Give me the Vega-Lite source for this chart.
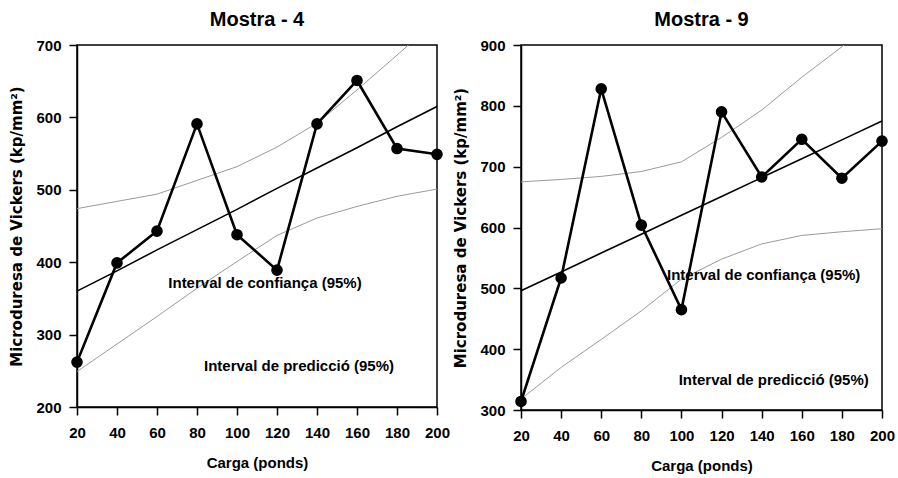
{
  "$schema": "https://vega.github.io/schema/vega-lite/v6.json",
  "background": "white",
  "padding": {"left": 9, "top": 9, "right": 2, "bottom": 5},
  "bounds": "flush",
  "spacing": 84,
  "config": {
    "font": "Liberation Sans",
    "view": {"stroke": "black", "strokeWidth": 1.5},
    "axis": {
      "grid": false,
      "domainColor": "black", "domainWidth": 1.5,
      "tickColor": "black", "tickWidth": 1.5, "tickSize": 8,
      "labelFont": "Liberation Sans", "labelFontWeight": "bold", "labelFontSize": 15, "labelColor": "black",
      "titleFont": "Liberation Sans", "titleFontWeight": "bold", "titleFontSize": 15, "titleColor": "black"
    },
    "axisX": {"labelPadding": 10, "titlePadding": 15, "labelFlush": false, "labelOverlap": false},
    "axisY": {"labelPadding": 8, "titlePadding": 11, "titleFont": "DejaVu Sans", "titleFontSize": 15, "labelFlush": false},
    "title": {"font": "Liberation Sans", "fontSize": 20, "fontWeight": "bold", "color": "black", "offset": 8}
  },
  "datasets": {
    "m4": [
      {"carga": 20, "obs": 262, "fit": 360, "upper": 474, "lower": 249},
      {"carga": 40, "obs": 399, "fit": 388, "upper": 484, "lower": 287},
      {"carga": 60, "obs": 443, "fit": 417, "upper": 494, "lower": 325},
      {"carga": 80, "obs": 591, "fit": 445, "upper": 513, "lower": 364},
      {"carga": 100, "obs": 438, "fit": 473, "upper": 532, "lower": 401},
      {"carga": 120, "obs": 389, "fit": 502, "upper": 559, "lower": 437},
      {"carga": 140, "obs": 591, "fit": 530, "upper": 592, "lower": 461},
      {"carga": 160, "obs": 651, "fit": 558, "upper": 638, "lower": 477},
      {"carga": 180, "obs": 557, "fit": 587, "upper": 686, "lower": 491},
      {"carga": 200, "obs": 549, "fit": 615, "upper": 735, "lower": 501}
    ],
    "m9": [
      {"carga": 20, "obs": 314, "fit": 496, "upper": 675, "lower": 318},
      {"carga": 40, "obs": 517, "fit": 527, "upper": 679, "lower": 370},
      {"carga": 60, "obs": 828, "fit": 558, "upper": 684, "lower": 416},
      {"carga": 80, "obs": 604, "fit": 589, "upper": 692, "lower": 463},
      {"carga": 100, "obs": 465, "fit": 620, "upper": 708, "lower": 515},
      {"carga": 120, "obs": 790, "fit": 651, "upper": 748, "lower": 548},
      {"carga": 140, "obs": 683, "fit": 682, "upper": 793, "lower": 573},
      {"carga": 160, "obs": 745, "fit": 713, "upper": 847, "lower": 587},
      {"carga": 180, "obs": 681, "fit": 744, "upper": 897, "lower": 593},
      {"carga": 200, "obs": 742, "fit": 775, "upper": 960, "lower": 598}
    ],
    "m4lab": [
      {"carga": 114, "v": 371, "label": "Interval de confiança (95%)"},
      {"carga": 131, "v": 256, "label": "Interval de predicció (95%)"}
    ],
    "m9lab": [
      {"carga": 141, "v": 522, "label": "Interval de confiança (95%)"},
      {"carga": 146, "v": 349, "label": "Interval de predicció (95%)"}
    ]
  },
  "hconcat": [
    {
      "width": 360,
      "height": 362,
      "title": "Mostra - 4",
      "data": {"name": "m4"},
      "encoding": {
        "x": {"field": "carga", "type": "quantitative", "scale": {"domain": [20, 200], "nice": false, "zero": false},
              "axis": {"values": [20, 40, 60, 80, 100, 120, 140, 160, 180, 200], "title": "Carga (ponds)"}}
      },
      "layer": [
        {"mark": {"type": "line", "color": "#9a9a9a", "strokeWidth": 1, "clip": true},
         "encoding": {"y": {"field": "upper", "type": "quantitative", "scale": {"domain": [200, 700], "nice": false, "zero": false}, "axis": {"values": [200, 300, 400, 500, 600, 700], "title": "Microduresa de Vickers (kp/mm²)"}}}},
        {"mark": {"type": "line", "color": "#9a9a9a", "strokeWidth": 1, "clip": true},
         "encoding": {"y": {"field": "lower", "type": "quantitative", "scale": {"domain": [200, 700], "nice": false, "zero": false}, "axis": {"values": [200, 300, 400, 500, 600, 700], "title": "Microduresa de Vickers (kp/mm²)"}}}},
        {"mark": {"type": "line", "color": "black", "strokeWidth": 1.6},
         "encoding": {"y": {"field": "fit", "type": "quantitative", "scale": {"domain": [200, 700], "nice": false, "zero": false}, "axis": {"values": [200, 300, 400, 500, 600, 700], "title": "Microduresa de Vickers (kp/mm²)"}}}},
        {"mark": {"type": "line", "color": "black", "strokeWidth": 2.6},
         "encoding": {"y": {"field": "obs", "type": "quantitative", "scale": {"domain": [200, 700], "nice": false, "zero": false}, "axis": {"values": [200, 300, 400, 500, 600, 700], "title": "Microduresa de Vickers (kp/mm²)"}}}},
        {"mark": {"type": "point", "filled": true, "color": "black", "size": 135, "opacity": 1},
         "encoding": {"y": {"field": "obs", "type": "quantitative", "scale": {"domain": [200, 700], "nice": false, "zero": false}, "axis": {"values": [200, 300, 400, 500, 600, 700], "title": "Microduresa de Vickers (kp/mm²)"}}}},
        {"data": {"name": "m4lab"},
         "mark": {"type": "text", "font": "Liberation Sans", "fontWeight": "bold", "fontSize": 15, "color": "black", "align": "center", "baseline": "middle"},
         "encoding": {"y": {"field": "v", "type": "quantitative", "scale": {"domain": [200, 700], "nice": false, "zero": false}, "axis": {"values": [200, 300, 400, 500, 600, 700], "title": "Microduresa de Vickers (kp/mm²)"}},
                      "text": {"field": "label"}}}
      ]
    },
    {
      "width": 361,
      "height": 365,
      "title": "Mostra - 9",
      "data": {"name": "m9"},
      "encoding": {
        "x": {"field": "carga", "type": "quantitative", "scale": {"domain": [20, 200], "nice": false, "zero": false},
              "axis": {"values": [20, 40, 60, 80, 100, 120, 140, 160, 180, 200], "title": "Carga (ponds)"}}
      },
      "layer": [
        {"mark": {"type": "line", "color": "#9a9a9a", "strokeWidth": 1, "clip": true},
         "encoding": {"y": {"field": "upper", "type": "quantitative", "scale": {"domain": [300, 900], "nice": false, "zero": false}, "axis": {"values": [300, 400, 500, 600, 700, 800, 900], "title": "Microduresa de Vickers (kp/mm²)"}}}},
        {"mark": {"type": "line", "color": "#9a9a9a", "strokeWidth": 1, "clip": true},
         "encoding": {"y": {"field": "lower", "type": "quantitative", "scale": {"domain": [300, 900], "nice": false, "zero": false}, "axis": {"values": [300, 400, 500, 600, 700, 800, 900], "title": "Microduresa de Vickers (kp/mm²)"}}}},
        {"mark": {"type": "line", "color": "black", "strokeWidth": 1.6},
         "encoding": {"y": {"field": "fit", "type": "quantitative", "scale": {"domain": [300, 900], "nice": false, "zero": false}, "axis": {"values": [300, 400, 500, 600, 700, 800, 900], "title": "Microduresa de Vickers (kp/mm²)"}}}},
        {"mark": {"type": "line", "color": "black", "strokeWidth": 2.6},
         "encoding": {"y": {"field": "obs", "type": "quantitative", "scale": {"domain": [300, 900], "nice": false, "zero": false}, "axis": {"values": [300, 400, 500, 600, 700, 800, 900], "title": "Microduresa de Vickers (kp/mm²)"}}}},
        {"mark": {"type": "point", "filled": true, "color": "black", "size": 135, "opacity": 1},
         "encoding": {"y": {"field": "obs", "type": "quantitative", "scale": {"domain": [300, 900], "nice": false, "zero": false}, "axis": {"values": [300, 400, 500, 600, 700, 800, 900], "title": "Microduresa de Vickers (kp/mm²)"}}}},
        {"data": {"name": "m9lab"},
         "mark": {"type": "text", "font": "Liberation Sans", "fontWeight": "bold", "fontSize": 15, "color": "black", "align": "center", "baseline": "middle"},
         "encoding": {"y": {"field": "v", "type": "quantitative", "scale": {"domain": [300, 900], "nice": false, "zero": false}, "axis": {"values": [300, 400, 500, 600, 700, 800, 900], "title": "Microduresa de Vickers (kp/mm²)"}},
                      "text": {"field": "label"}}}
      ]
    }
  ]
}
